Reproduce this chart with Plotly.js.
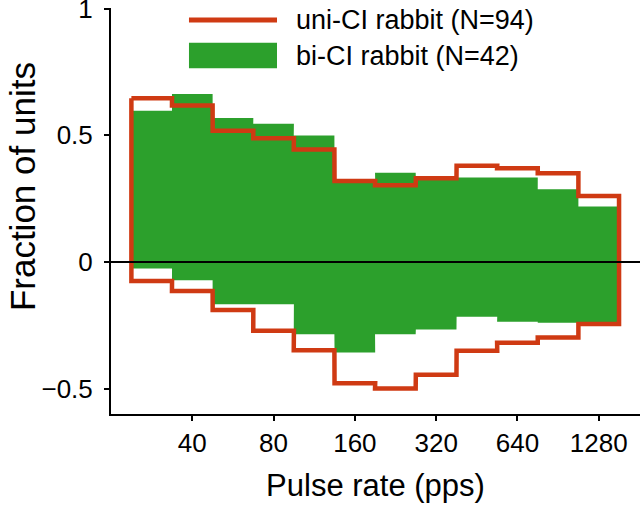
<!DOCTYPE html>
<html>
<head>
<meta charset="utf-8">
<script src="https://cdn.plot.ly/plotly-3.0.1.min.js"></script>
<style>
  html, body { margin: 0; padding: 0; background: #ffffff; }
  #chart { width: 640px; height: 507px; }
</style>
</head>
<body>
<div id="chart"></div>
<script>
// Bin centres (pulse rate, pps) — half-octave bins
const pulseRate = [28.3, 40, 56.6, 80, 113, 160, 226, 320, 453, 640, 905, 1280];
// uni-CI rabbit (N=94)
const uniUpper = [0.646, 0.617, 0.518, 0.488, 0.444, 0.319, 0.303, 0.330, 0.380, 0.370, 0.350, 0.260];
const uniLower = [-0.075, -0.115, -0.190, -0.272, -0.348, -0.479, -0.499, -0.445, -0.350, -0.319, -0.298, -0.245];
// bi-CI rabbit (N=42)
const biUpper = [0.597, 0.663, 0.568, 0.545, 0.499, 0.320, 0.352, 0.330, 0.333, 0.333, 0.287, 0.219];
const biLower = [-0.026, -0.072, -0.167, -0.167, -0.285, -0.357, -0.285, -0.267, -0.216, -0.236, -0.240, -0.240];

const xTickVals = [40, 80, 160, 320, 640, 1280];
const xTickText = ['40', '80', '160', '320', '640', '1280'];
const yTickVals = [-0.5, 0, 0.5, 1];
const yTickText = ['\u22120.5', '0', '0.5', '1'];

const uniName = 'uni-CI rabbit (N=94)';
const biName = 'bi-CI rabbit (N=42)';
const xTitle = 'Pulse rate (pps)';
const yTitle = 'Fraction of units';

const RED = '#cf3a13';
const GREEN = '#2ca02c';
const FONT = 'Liberation Sans, Arial, Helvetica, sans-serif';

// bin edges: half-octave bins centred on each pulse rate
const lo = pulseRate.map(c => c * Math.pow(2, -0.25));
const hi = pulseRate.map(c => c * Math.pow(2, 0.25));

// closed step outline: along the upper step, back along the lower step
function stepPolygon(upper, lower) {
  const xs = [], ys = [];
  for (let i = 0; i < upper.length; i++) {
    xs.push(lo[i], hi[i]);
    ys.push(upper[i], upper[i]);
  }
  for (let i = lower.length - 1; i >= 0; i--) {
    xs.push(hi[i], lo[i]);
    ys.push(lower[i], lower[i]);
  }
  xs.push(lo[0]);
  ys.push(upper[0]);
  return { xs, ys };
}

const bi = stepPolygon(biUpper, biLower);
const uni = stepPolygon(uniUpper, uniLower);

const traces = [
  {
    type: 'scatter', mode: 'lines', name: biName,
    x: bi.xs, y: bi.ys, fill: 'toself', fillcolor: GREEN,
    line: { width: 0, color: GREEN }, hoverinfo: 'skip', showlegend: false
  },
  {
    type: 'scatter', mode: 'lines', name: uniName,
    x: uni.xs, y: uni.ys,
    line: { width: 4.5, color: RED }, hoverinfo: 'skip', showlegend: false
  }
];

const layout = {
  width: 640, height: 507,
  margin: { l: 111, r: 0, t: 8, b: 93, pad: 0 },
  paper_bgcolor: '#ffffff', plot_bgcolor: '#ffffff',
  font: { family: FONT, color: '#000000', size: 26 },
  showlegend: false,
  xaxis: {
    type: 'log',
    range: [Math.log10(20), Math.log10(1820)],
    tickvals: xTickVals, ticktext: xTickText,
    showline: true, linecolor: '#000000', linewidth: 2,
    ticks: 'outside', ticklen: 5, tickwidth: 2, tickcolor: '#000000',
    showgrid: false, zeroline: false,
    tickfont: { family: FONT, size: 26, color: '#000000' },
    title: { text: xTitle, font: { family: FONT, size: 31, color: '#000000' }, standoff: 17 }
  },
  yaxis: {
    range: [-0.6, 1.002],
    tickvals: yTickVals, ticktext: yTickText,
    showline: true, linecolor: '#000000', linewidth: 2,
    ticks: 'outside', ticklen: 5, tickwidth: 2, tickcolor: '#000000',
    ticklabelstandoff: 6, ticklabeloverflow: 'allow',
    showgrid: false, zeroline: false,
    tickfont: { family: FONT, size: 26, color: '#000000' }
  },
  shapes: [
    // zero reference line
    { type: 'line', xref: 'paper', yref: 'y', x0: 0, x1: 1, y0: 0, y1: 0,
      line: { color: '#000000', width: 2 }, layer: 'above' },
    // legend keys
    { type: 'line', xref: 'paper', yref: 'paper', x0: 0.1474, x1: 0.3138, y0: 0.9704, y1: 0.9704,
      line: { color: RED, width: 5 }, layer: 'above' },
    { type: 'rect', xref: 'paper', yref: 'paper', x0: 0.1474, x1: 0.3138, y0: 0.8515, y1: 0.9145,
      fillcolor: GREEN, line: { width: 0 }, layer: 'above' }
  ],
  annotations: [
    { xref: 'paper', yref: 'paper', x: 0.346, y: 0.9704, xanchor: 'left', yanchor: 'middle',
      text: uniName, showarrow: false, font: { family: FONT, size: 27, color: '#000000' } },
    { xref: 'paper', yref: 'paper', x: 0.346, y: 0.883, xanchor: 'left', yanchor: 'middle',
      text: biName, showarrow: false, font: { family: FONT, size: 27, color: '#000000' } },
    // y-axis title
    { xref: 'paper', yref: 'paper', x: -0.208, y: 0.56, xanchor: 'left', yanchor: 'middle',
      textangle: -90, text: yTitle, showarrow: false,
      font: { family: FONT, size: 35, color: '#000000' } }
  ]
};

Plotly.newPlot('chart', traces, layout, { displayModeBar: false, staticPlot: true });
</script>
</body>
</html>
